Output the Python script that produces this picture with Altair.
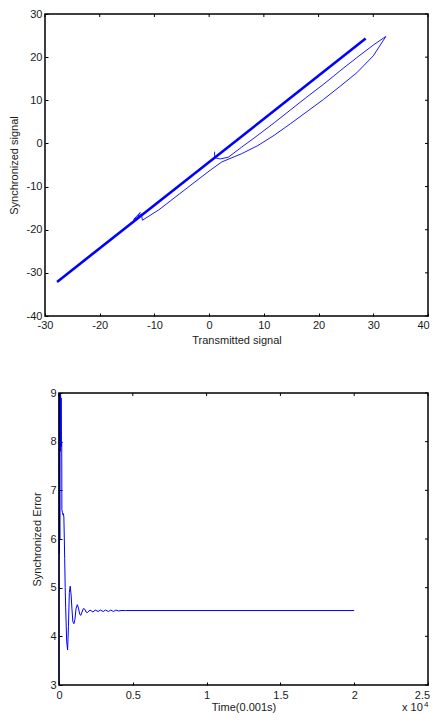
import altair as alt
import pandas as pd

FONT = "Liberation Sans"

# ---------- top panel data ----------
thick_x = [-27.8, 28.6]
thick_y = [-32.1, 24.3]

loop_x = [-12.8, -13.8, -12.6, -13.4, -12.4, -12.2, -9.2, -4.0, 0.0, 2.3, 5.9, 8.9, 11.9,
          14.9, 17.9, 20.9, 23.9, 27.0, 30.0, 32.3, 30.0, 27.0, 23.9, 20.9, 17.9, 14.9, 11.9,
          8.9, 5.9, 3.5, 2.0, 1.0, 1.0]
loop_y = [-17.0, -17.6, -16.0, -17.8, -16.3, -17.8, -15.4, -10.3, -6.4, -4.3, -2.4, -0.5, 1.9,
          4.6, 7.4, 10.2, 13.2, 16.4, 20.3, 24.8, 22.8, 19.9, 16.8, 13.7, 10.8, 7.8, 4.8,
          1.9, -0.9, -3.2, -3.6, -3.3, -1.9]

top_x_ticks = [-30, -20, -10, 0, 10, 20, 30, 40]
top_y_ticks = [-40, -30, -20, -10, 0, 10, 20, 30]

# ---------- bottom panel data ----------
time_vals = [0, 10, 25, 40, 55, 70, 90, 105, 125, 145, 165, 185, 195, 230, 260, 300, 330, 360,
             385, 420, 450, 520, 583, 640, 700, 760, 820, 880, 940, 1010, 1080, 1160, 1240,
             1320, 1400, 1470, 1560, 1650, 1740, 1830, 1920, 2100, 2300, 2450, 2650, 2800,
             3000, 3150, 3350, 3500, 3700, 3850, 4050, 4200, 4500, 20000]
err_vals = [3.0, 9.0, 5.7, 9.0, 6.0, 9.0, 7.8, 9.0, 8.0, 8.9, 7.9, 8.0, 6.6, 6.55, 6.5, 6.52, 6.45, 6.0,
            5.6, 5.0, 4.6, 3.9, 3.72, 4.2, 4.9, 5.03, 4.85, 4.55, 4.3, 4.26, 4.35, 4.58, 4.65,
            4.58, 4.46, 4.43, 4.5, 4.57, 4.56, 4.5, 4.49, 4.54, 4.5, 4.54, 4.51, 4.54,
            4.51, 4.54, 4.51, 4.54, 4.51, 4.54, 4.52, 4.53, 4.53, 4.53]

bot_x_ticks = [0, 5000, 10000, 15000, 20000, 25000]
bot_y_ticks = [3, 4, 5, 6, 7, 8, 9]
exp_base = "x 10"
exp_power = "4"

BLUE = "#0000ff"
TXT = "#1a1a1a"

# ---------- layout (pixels inside one 422 x 706 view) ----------
W, H = 422, 706
T_L, T_R, T_T, T_B = 37, 420, 6, 308      # top panel box
B_L, B_R, B_T, B_B = 51, 420, 385, 677    # bottom panel box
TK = 3                                    # inward tick length


def axis(values, orient, title, title_pad, label_pad, label_expr, offset,
         last_value=None, last_shift=0):
    kw = dict(orient=orient, values=values, offset=offset, tickSize=TK, tickColor="black",
              domain=False, grid=False, labelPadding=label_pad, title=title,
              titlePadding=title_pad, labelFont=FONT, labelFontSize=11, labelColor=TXT,
              titleFont=FONT, titleFontSize=11, titleFontWeight="normal", titleColor=TXT,
              labelFlush=False, labelOverlap=False, labelExpr=label_expr, minExtent=0,
              maxExtent=200)
    if last_value is not None:
        kw["labelOffset"] = {"condition": {"test": f"datum.value == {last_value}",
                                           "value": last_shift}, "value": 0}
    return alt.Axis(**kw)


def top_ticks(values, scale, y0):
    return alt.Chart(pd.DataFrame({"v": values})).mark_rule(color="black", strokeWidth=1).encode(
        x=alt.X("v:Q", scale=scale, axis=None), y=alt.value(y0), y2=alt.value(y0 + TK))


def right_ticks(values, scale, x1):
    return alt.Chart(pd.DataFrame({"v": values})).mark_rule(color="black", strokeWidth=1).encode(
        y=alt.Y("v:Q", scale=scale, axis=None), x=alt.value(x1 - TK), x2=alt.value(x1))


def frame(l, r, t, b):
    return alt.Chart(pd.DataFrame({"a": [0]})).mark_rect(
        fillOpacity=0, stroke="black", strokeWidth=1.5).encode(
        x=alt.value(l), x2=alt.value(r), y=alt.value(t), y2=alt.value(b))


# ---------- top panel ----------
xs_t = alt.Scale(domain=[-30, 40], nice=False, zero=False, range=[T_L, T_R])
ys_t = alt.Scale(domain=[-40, 30], nice=False, zero=False, range=[T_B, T_T])

df_thick = pd.DataFrame({"x": thick_x, "y": thick_y, "o": list(range(len(thick_x)))})
df_loop = pd.DataFrame({"x": loop_x, "y": loop_y, "o": list(range(len(loop_x)))})

t_loop = alt.Chart(df_loop).mark_line(color=BLUE, strokeWidth=0.9).encode(
    x=alt.X("x:Q", scale=xs_t,
            axis=axis(top_x_ticks, "bottom", "Transmitted signal", 4, 3, "'' + datum.value",
                      offset=-(H - T_B) - TK, last_value=40, last_shift=-5)),
    y=alt.Y("y:Q", scale=ys_t,
            axis=axis(top_y_ticks, "left", "Synchronized signal", 7, 3, "'' + datum.value",
                      offset=-T_L - TK)),
    order="o:Q",
)
t_thick = alt.Chart(df_thick).mark_line(color=BLUE, strokeWidth=2.6).encode(
    x=alt.X("x:Q", scale=xs_t, axis=None),
    y=alt.Y("y:Q", scale=ys_t, axis=None),
    order="o:Q",
)

# ---------- bottom panel ----------
xs_b = alt.Scale(domain=[0, 25000], nice=False, zero=False, range=[B_L, B_R])
ys_b = alt.Scale(domain=[3, 9], nice=False, zero=False, range=[B_B, B_T])
df_err = pd.DataFrame({"t": time_vals, "e": err_vals})

b_line = alt.Chart(df_err).mark_line(color=BLUE, strokeWidth=1).encode(
    x=alt.X("t:Q", scale=xs_b,
            axis=axis(bot_x_ticks, "bottom", "Time(0.001s)", 1, 4, "'' + datum.value / 10000",
                      offset=-(H - B_B) - TK, last_value=25000, last_shift=-6)),
    y=alt.Y("e:Q", scale=ys_b,
            axis=axis(bot_y_ticks, "left", "Synchronized Error", 7, 3, "'' + datum.value",
                      offset=-B_L - TK)),
    order="t:Q",
)
b_exp = alt.Chart(pd.DataFrame({"s": [exp_base]})).mark_text(
    font=FONT, fontSize=11, color=TXT, align="left", baseline="alphabetic").encode(
    x=alt.value(394), y=alt.value(703), text="s:N")
b_pow = alt.Chart(pd.DataFrame({"s": [exp_power]})).mark_text(
    font=FONT, fontSize=8, color=TXT, align="left", baseline="alphabetic").encode(
    x=alt.value(416), y=alt.value(699), text="s:N")

chart = (alt.layer(
    t_loop, t_thick,
    top_ticks(top_x_ticks, xs_t, T_T), right_ticks(top_y_ticks, ys_t, T_R),
    frame(T_L, T_R, T_T, T_B),
    b_line,
    top_ticks(bot_x_ticks, xs_b, B_T), right_ticks(bot_y_ticks, ys_b, B_R),
    frame(B_L, B_R, B_T, B_B),
    b_exp, b_pow)
    .resolve_scale(x="independent", y="independent")
    .resolve_axis(x="independent", y="independent")
    .properties(width=W, height=H, padding=0,
                autosize=alt.AutoSizeParams(type="fit", contains="padding"),
                view=alt.ViewBackground(stroke="transparent"))
    .configure(background="white"))

chart.save("out.html", embed_options={"renderer": "svg", "actions": False})
